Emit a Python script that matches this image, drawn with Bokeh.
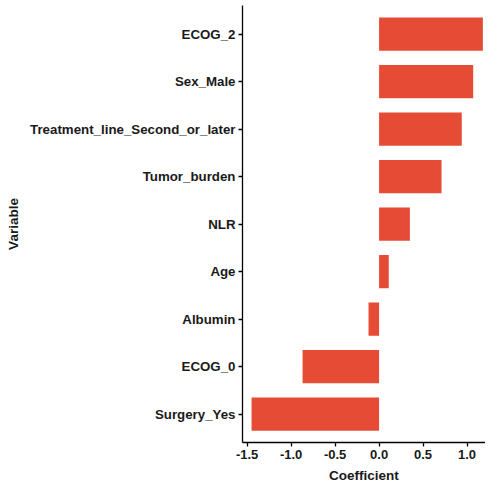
from bokeh.plotting import figure
from bokeh.models import FactorRange, Range1d, ColumnDataSource, FixedTicker, NumeralTickFormatter
from bokeh.embed import file_html
from bokeh.resources import INLINE

variables = ["Surgery_Yes", "ECOG_0", "Albumin", "Age", "NLR", "Tumor_burden",
             "Treatment_line_Second_or_later", "Sex_Male", "ECOG_2"]
coefficients = [-1.45, -0.87, -0.12, 0.11, 0.35, 0.71, 0.94, 1.07, 1.18]
x_ticks = [-1.5, -1.0, -0.5, 0.0, 0.5, 1.0]

src = ColumnDataSource(dict(variable=variables, coef=coefficients, zero=[0.0] * len(variables)))

p = figure(width=485, height=485, output_backend="svg", toolbar_location=None,
           y_range=FactorRange(factors=variables, range_padding=0.1, range_padding_units="absolute"),
           x_range=Range1d(-1.553, 1.21),
           min_border_left=242, min_border_right=0, min_border_top=5, min_border_bottom=42)

p.hbar(y="variable", left="zero", right="coef", height=0.7, source=src,
       fill_color="#E64B35", line_color=None)

p.xgrid.visible = False
p.ygrid.visible = False
p.outline_line_color = None
p.background_fill_color = "white"
p.border_fill_color = "white"

p.xaxis.ticker = FixedTicker(ticks=x_ticks)
p.xaxis.formatter = NumeralTickFormatter(format="0.0")
p.xaxis.axis_label = "Coefficient"
p.yaxis.axis_label = "Variable"

for ax in (p.xaxis[0], p.yaxis[0]):
    ax.axis_line_color = "black"
    ax.axis_line_width = 1.3
    ax.major_tick_line_color = "black"
    ax.major_tick_line_width = 1.3
    ax.major_tick_out = 4
    ax.major_tick_in = 0
    ax.minor_tick_line_color = None
    ax.major_label_text_font = "Liberation Sans"
    ax.major_label_text_font_style = "bold"
    ax.major_label_text_color = "#1a1a1a"
    ax.major_label_standoff = 3
    ax.axis_label_text_font = "Liberation Sans"
    ax.axis_label_text_font_size = "13.5px"
    ax.axis_label_text_font_style = "bold"
    ax.axis_label_text_color = "#1a1a1a"
    ax.axis_label_standoff = 6

p.yaxis.major_label_text_font_size = "13.3px"
p.xaxis.major_label_text_font_size = "13px"

open("out.html", "w").write(file_html(p, INLINE))
